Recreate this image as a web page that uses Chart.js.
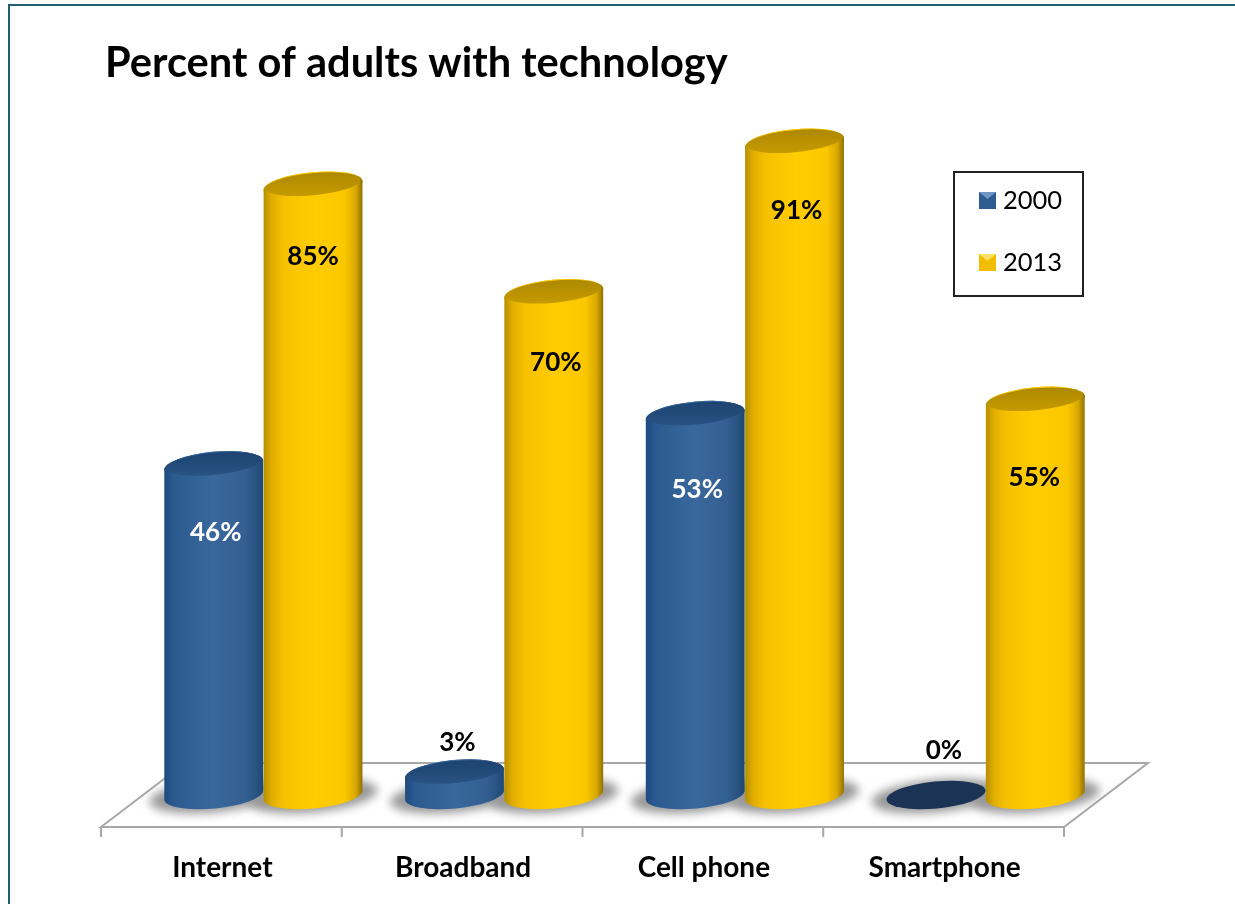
<!DOCTYPE html>
<html>
<head>
<meta charset="utf-8">
<title>Percent of adults with technology</title>
<script src="https://cdn.jsdelivr.net/npm/chart.js@4/dist/chart.umd.js"></script>
<style>
  html, body { margin: 0; padding: 0; background: #fff; }
  canvas { display: block; }
</style>
</head>
<body>
<canvas id="myChart" width="1235" height="904"></canvas>
<script>
var titleText = "Percent of adults with technology";
var categories = ["Internet", "Broadband", "Cell phone", "Smartphone"];
var seriesNames = ["2000", "2013"];
var values2000 = [46, 3, 53, 0];
var values2013 = [85, 70, 91, 55];

// where each value label sits, measured from the top of its cylinder
var labelShift2000 = [[2, 67], [3, -31], [2, 75], [8, -44]];
var labelShift2013 = [[0, 71], [2, 69], [2, 68], [-1, 77]];

var FONT = "Lato, Carlito, Calibri, sans-serif";
var DEPTH_X = 42, DEPTH_Y = 32;   // half depth of the floor
var RY = 13.5, TILT = -5.5 * Math.PI / 180;

var blueRamp = [[0, "#1f4a7c"], [0.1, "#2a5a8f"], [0.5, "#3a689c"], [0.82, "#345f92"], [0.94, "#26517f"], [1, "#1d4674"]];
var goldRamp = [[0, "#b38e00"], [0.08, "#e0ad00"], [0.2, "#f5c000"], [0.5, "#ffcc00"], [0.82, "#fbc800"], [0.93, "#d9a800"], [1, "#8f7000"]];
var blueTop = ["#1d4371", "#295585"];
var goldTop = ["#ad8800", "#c99d00"];
var flatBlue = "#1b3354";

function ramp(ctx, x0, x1, stops) {
  var g = ctx.createLinearGradient(x0, 0, x1, 0);
  stops.forEach(function (s) { g.addColorStop(s[0], s[1]); });
  return g;
}

// bar element drawn as an upright cylinder standing on the floor
class CylinderElement extends Chart.BarElement {
  static id = "cylinder";
  static defaults = Chart.BarElement.defaults;

  draw(ctx) {
    var p = this.getProps(["x", "y", "base", "width"]);
    var rx = p.width / 2;
    var o = this.options;
    var stops = o.backgroundColor === "blue" ? blueRamp : goldRamp;
    var top = o.backgroundColor === "blue" ? blueTop : goldTop;

    ctx.save();
    if (p.base - p.y < 1) {
      // zero height: only a flat disc is left
      ctx.fillStyle = flatBlue;
      ctx.beginPath();
      ctx.ellipse(p.x, p.base, rx, RY, TILT, 0, Math.PI * 2);
      ctx.fill();
      ctx.restore();
      return;
    }
    ctx.fillStyle = ramp(ctx, p.x - rx, p.x + rx, stops);
    ctx.beginPath();
    ctx.ellipse(p.x, p.base, rx, RY, TILT, 0, Math.PI);
    ctx.ellipse(p.x, p.y, rx, RY, TILT, Math.PI, Math.PI * 2);
    ctx.closePath();
    ctx.fill();

    // bevelled rim, then the darker lid inside it
    var lid = ctx.createLinearGradient(p.x, p.y - RY, p.x, p.y + RY);
    lid.addColorStop(0, top[0]);
    lid.addColorStop(1, top[1]);
    ctx.fillStyle = ramp(ctx, p.x - rx, p.x + rx, stops);
    ctx.beginPath();
    ctx.ellipse(p.x, p.y, rx, RY, TILT, 0, Math.PI * 2);
    ctx.fill();
    ctx.fillStyle = lid;
    ctx.beginPath();
    ctx.ellipse(p.x, p.y - 1.5, rx - 2, RY - 2.5, TILT, 0, Math.PI * 2);
    ctx.fill();
    ctx.restore();
  }
}

class CylinderController extends Chart.BarController {
  static id = "cylinder";
  static defaults = Object.assign({}, Chart.BarController.defaults, { dataElementType: "cylinder" });
  static overrides = Chart.BarController.overrides;
}

Chart.register(CylinderElement, CylinderController);

// floor plane, its tick marks and the soft shadows under the cylinders
var floorPlugin = {
  id: "floor",
  beforeDatasetsDraw: function (chart) {
    var ctx = chart.ctx;
    var area = chart.chartArea;
    var xs = chart.scales.x;
    var y0 = chart.scales.y.getPixelForValue(0);
    var left = area.left - DEPTH_X, right = area.right - DEPTH_X;
    var front = y0 + DEPTH_Y, back = y0 - DEPTH_Y;

    ctx.save();
    ctx.strokeStyle = "#a8a8a8";
    ctx.lineWidth = 2;
    ctx.beginPath();
    ctx.moveTo(left, front);
    ctx.lineTo(left + 2 * DEPTH_X, back);
    ctx.lineTo(right + 2 * DEPTH_X, back);
    ctx.lineTo(right, front);
    ctx.closePath();
    for (var i = 0; i <= categories.length; i++) {
      var tx = left + i * (xs.width / categories.length);
      ctx.moveTo(tx, front);
      ctx.lineTo(tx, front + 10);
    }
    ctx.stroke();

    ctx.filter = "blur(5px)";
    ctx.fillStyle = "#999999";
    chart.getSortedVisibleDatasetMetas().forEach(function (meta) {
      meta.data.forEach(function (bar) {
        ctx.beginPath();
        ctx.ellipse(bar.x, y0 + 1, bar.width / 2 + 15, RY + 3, TILT, 0, Math.PI * 2);
        ctx.fill();
      });
    });
    ctx.restore();
  }
};

// value labels, legend box and page frame go on top of the cylinders
var overlayPlugin = {
  id: "overlay",
  afterLayout: function (chart) {
    chart.titleBlock.left = 105;
  },
  afterDraw: function (chart) {
    var ctx = chart.ctx;
    var shifts = [labelShift2000, labelShift2013];
    ctx.save();
    ctx.textAlign = "center";
    ctx.textBaseline = "middle";
    ctx.font = "bold 26px " + FONT;
    chart.data.datasets.forEach(function (ds, d) {
      chart.getDatasetMeta(d).data.forEach(function (bar, i) {
        var s = shifts[d][i];
        ctx.fillStyle = (d === 0 && s[1] > 0) ? "#ffffff" : "#000000";
        ctx.fillText(ds.data[i] + "%", bar.x + s[0], bar.y + s[1]);
      });
    });

    // legend
    ctx.strokeStyle = "#222222";
    ctx.lineWidth = 2;
    ctx.strokeRect(954, 172, 129, 124);
    ctx.textAlign = "left";
    ctx.font = "25.5px " + FONT;
    seriesNames.forEach(function (name, k) {
      var y = 201 + k * 62;
      ctx.fillStyle = k === 0 ? "#2f5c90" : "#f2bd00";
      ctx.fillRect(979, y - 9, 17, 17);
      ctx.fillStyle = k === 0 ? "#6f97c8" : "#ffe066";
      ctx.beginPath();
      ctx.moveTo(979, y - 9);
      ctx.lineTo(996, y - 9);
      ctx.lineTo(987.5, y - 2);
      ctx.closePath();
      ctx.fill();
      ctx.fillStyle = "#000000";
      ctx.fillText(name, 1003, y);
    });

    // frame
    ctx.strokeStyle = "#1f6070";
    ctx.lineWidth = 2;
    ctx.beginPath();
    ctx.moveTo(9, 904);
    ctx.lineTo(9, 5);
    ctx.lineTo(1235, 5);
    ctx.stroke();
    ctx.restore();
  }
};

var ctx = document.getElementById("myChart");
var myChart = new Chart(ctx, {
  type: "cylinder",
  data: {
    labels: categories,
    datasets: [
      { label: seriesNames[0], data: values2000, backgroundColor: "blue", clip: false },
      { label: seriesNames[1], data: values2013, backgroundColor: "gold", clip: false }
    ]
  },
  options: {
    responsive: false,
    animation: false,
    layout: { padding: { left: 143, right: 129, top: 0, bottom: 0 } },
    datasets: { cylinder: { categoryPercentage: 0.825, barPercentage: 1 } },
    scales: {
      x: {
        grid: { display: false },
        border: { display: false },
        ticks: {
          color: "#000000",
          font: { family: FONT, size: 28, weight: "bold" },
          padding: 48,
          labelOffset: -41,
          maxRotation: 0
        },
        afterFit: function (scale) { scale.height = 109; }
      },
      y: { display: false, min: 0, max: 95 }
    },
    plugins: {
      legend: { display: false },
      tooltip: { enabled: false },
      title: {
        display: true,
        text: titleText,
        align: "start",
        color: "#000000",
        font: { family: FONT, size: 41.6, weight: "bold", lineHeight: 1.2 },
        padding: { top: 39, bottom: 25.1 }
      }
    }
  },
  plugins: [floorPlugin, overlayPlugin]
});
</script>
</body>
</html>
